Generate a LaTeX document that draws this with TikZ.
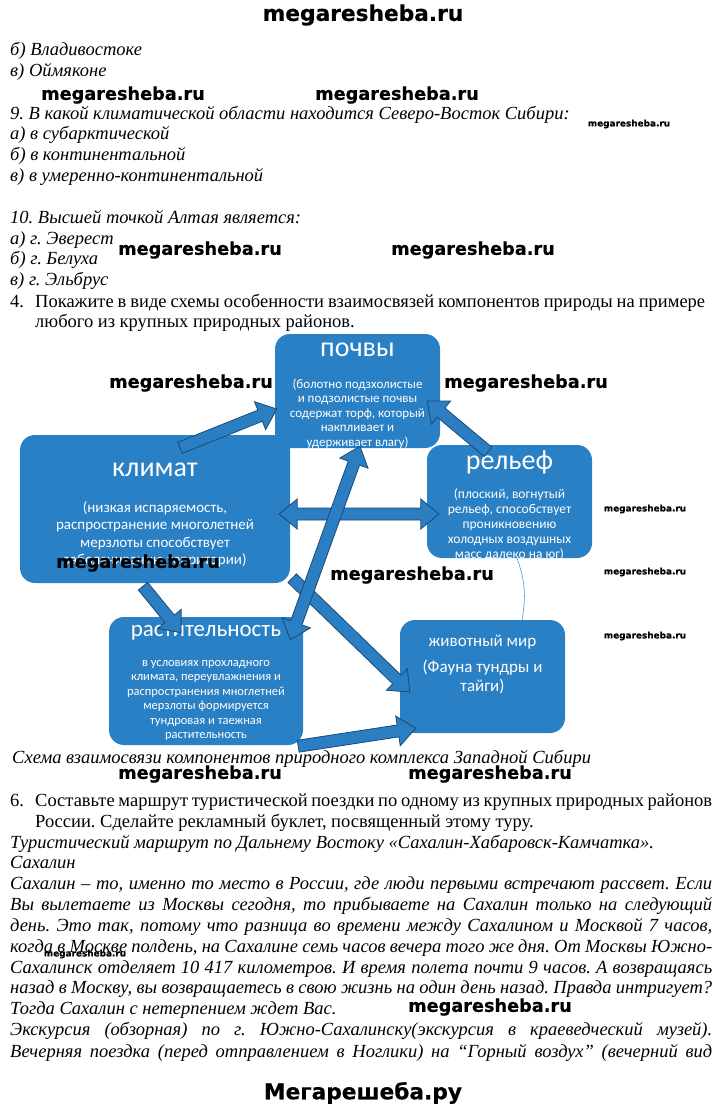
\documentclass[tikz,border=0pt]{standalone}
\usepackage{fontspec}
\setmainfont{Liberation Serif}
\newfontfamily\boxfont{Carlito}
\newfontfamily\wmfont{DejaVu Sans}[BoldFeatures={FakeBold=0.4}]
\usetikzlibrary{positioning, arrows.meta, calc}
\definecolor{boxblue}{RGB}{42,128,196}
\definecolor{arrblue}{RGB}{44,126,194}
\definecolor{arrline}{RGB}{26,74,118}
\frenchspacing
% one line stretched to a given width
\newcommand{\jline}[2]{\makebox[#1][s]{#2}}
% lines of a box text, baseline at the first line
\newcommand{\boxlines}[1]{\begin{tabular}[t]{@{}c@{}}#1\end{tabular}}
% block arrow from #1 to the tip #2
\newcommand{\blockarr}[2]{%
  \filldraw[blk] ($(#1)!6pt!90:(#2)$) -- ($(#2)!18pt!(#1)!6pt!-90:(#1)$) -- ($(#2)!18pt!(#1)!15pt!-90:(#1)$) -- (#2)
    -- ($(#2)!18pt!(#1)!15pt!90:(#1)$) -- ($(#2)!18pt!(#1)!6pt!90:(#1)$) -- ($(#1)!6pt!-90:(#2)$) -- cycle;}
% block arrow with tips at #1 and #2
\newcommand{\blockdarr}[2]{%
  \filldraw[blk] ($(#1)!18pt!(#2)!6pt!90:(#2)$) -- ($(#2)!18pt!(#1)!6pt!-90:(#1)$) -- ($(#2)!18pt!(#1)!15pt!-90:(#1)$) -- (#2)
    -- ($(#2)!18pt!(#1)!15pt!90:(#1)$) -- ($(#2)!18pt!(#1)!6pt!90:(#1)$) -- ($(#1)!18pt!(#2)!6pt!-90:(#2)$)
    -- ($(#1)!18pt!(#2)!15pt!-90:(#2)$) -- (#1) -- ($(#1)!18pt!(#2)!15pt!90:(#2)$) -- cycle;}
\tikzset{
  txt/.style={
      anchor=base west,
      inner sep=0pt,
      font=\fontsize{18.5}{20}\selectfont\itshape
    },
  rom/.style={
      txt,
      font=\fontsize{18.5}{20}\selectfont
    },
  box/.style={
      rectangle,
      rounded corners=15pt,
      fill=boxblue,
      inner sep=0pt
    },
  head/.style={
      text=white,
      inner sep=0pt
    },
  body/.style={
      text=white,
      inner sep=0pt,
      anchor=base
    },
  blk/.style={
      fill=arrblue,
      draw=arrline,
      line width=0.8pt,
      line join=miter
    },
  link/.style={
      draw=boxblue!80,
      line width=0.6pt
    },
  wm/.style={
      inner sep=0pt,
      font=\wmfont\bfseries\fontsize{17.7}{18}\selectfont
    },
  wmbig/.style={
      wm,
      font=\wmfont\bfseries\fontsize{21.7}{22}\selectfont
    },
  wmsmall/.style={
      wm,
      font=\wmfont\bfseries\fontsize{8.9}{9}\selectfont
    }
}
\begin{document}
\begin{tikzpicture}[x=1pt, y=-1pt]
  \useasboundingbox (0,0) rectangle (720,1112);
  \fill[white] (0,0) rectangle (720,1112);

  % questions
  \node[txt] (b8) at (10,55) {б) Владивостоке};
  \node[txt] (c8) at (10,76) {в) Оймяконе};
  \node[txt] (q9) at (10,119) {9. В какой климатической области находится Северо-Восток Сибири:};
  \node[txt] (a9) at (10,139) {а) в субарктической};
  \node[txt] (b9) at (10,160) {б) в континентальной};
  \node[txt] (c9) at (10,181) {в) в умеренно-континентальной};
  \node[txt] (q10) at (10,223) {10. Высшей точкой Алтая является:};
  \node[txt] (a10) at (10,244) {а) г. Эверест};
  \node[txt] (b10) at (10,264) {б) г. Белуха};
  \node[txt] (c10) at (10,285) {в) г. Эльбрус};
  \node[rom] (n4) at (10,307) {4.};
  \node[rom] (t4) at (35,307) {\jline{670pt}{Покажите в виде схемы особенности взаимосвязей компонентов природы на примере}};
  \node[rom] (t4b) at (35,327) {любого из крупных природных районов.};

  % scheme
  \node[box, minimum width=165pt, minimum height=114pt] (poch) at (357.5,391) {};
  \node[box, minimum width=270pt, minimum height=148pt] (klim) at (155,509) {};
  \node[box, minimum width=165pt, minimum height=113pt] (rel) at (509.5,501.5) {};
  \node[box, minimum width=194pt, minimum height=128pt] (rast) at (206,681) {};
  \node[box, minimum width=165pt, minimum height=113pt] (zhiv) at (482.5,676.5) {};

  \node[head, font=\boxfont\fontsize{28}{30}\selectfont] (pochT) at (357.5,350) {почвы};
  \node[body, font=\boxfont\fontsize{13}{14.5}\selectfont] (pochB) at (357.5,388) {\boxlines{(болотно подзхолистые\\ и подзолистые почвы\\ содержат торф, который\\ накпливает и\\ удерживает влагу)}};
  \node[head, font=\boxfont\fontsize{28}{30}\selectfont] (klimT) at (155,470) {климат};
  \node[body, font=\boxfont\fontsize{15}{17.5}\selectfont] (klimB) at (155,512) {\boxlines{(низкая испаряемость,\\ распространение многолетней\\ мерзлоты способствует\\ заболачиванию территории)}};
  \node[head, font=\boxfont\fontsize{28}{30}\selectfont] (relT) at (509.5,462) {рельеф};
  \node[body, font=\boxfont\fontsize{13.5}{15}\selectfont] (relB) at (509.5,498) {\boxlines{(плоский, вогнутый\\ рельеф, способствует\\ проникновению\\ холодных воздушных\\ масс далеко на юг)}};
  \node[head, font=\boxfont\fontsize{23}{25}\selectfont] (rastT) at (206,633) {растительность};
  \node[body, font=\boxfont\fontsize{12.5}{14.5}\selectfont] (rastB) at (206,666) {\boxlines{в условиях прохладного\\ климата, переувлажнения и\\ распространения многлетней\\ мерзлоты формируется\\ тундровая и таежная\\ растительность}};
  \node[head, font=\boxfont\fontsize{17}{19}\selectfont] (zhivT) at (482.5,642) {животный мир};
  \node[body, font=\boxfont\fontsize{17}{19}\selectfont] (zhivB) at (482.5,672) {\boxlines{(Фауна тундры и\\ тайги)}};

  % arrow ends
  \coordinate (kp1) at ([xshift=25pt,yshift=-13pt]klim.north);
  \coordinate (kp2) at ([xshift=2pt,yshift=-18pt]poch.west);
  \coordinate (rp1) at ([xshift=-21.5pt,yshift=-7pt]rel.north);
  \coordinate (rp2) at ([xshift=-13pt,yshift=-10pt]poch.east);
  \coordinate (kr1) at ([xshift=-11pt,yshift=-5pt]klim.east);
  \coordinate (kr2) at ([xshift=12pt,yshift=-12.5pt]rel.west);
  \coordinate (pr1) at ([xshift=2.5pt,yshift=2pt]poch.south);
  \coordinate (pr2) at ([xshift=-13pt,yshift=-23pt]rast.north east);
  \coordinate (ka1) at ([xshift=-12pt,yshift=-3pt]klim.south);
  \coordinate (ka2) at ([xshift=-25pt,yshift=-16pt]rast.north);
  \coordinate (kz1) at ([xshift=2pt,yshift=5pt]klim.south east);
  \coordinate (kz2) at ([xshift=10pt,yshift=-15.5pt]zhiv.west);
  \coordinate (az1) at ([xshift=-5pt,yshift=-1pt]rast.south east);
  \coordinate (az2) at ([xshift=16pt,yshift=5pt]zhiv.south west);

  \blockarr{kp1}{kp2}
  \blockarr{rp1}{rp2}
  \blockdarr{kr1}{kr2}
  \blockarr{ka1}{ka2}
  \blockarr{kz1}{kz2}
  \blockdarr{pr1}{pr2}
  \blockarr{az1}{az2}
  \draw[link] ([xshift=7.5pt]rel.south) to[bend left=15] ([xshift=39.5pt]zhiv.north);

  \node[txt] (cap) at (12,763) {Схема взаимосвязи компонентов природного комплекса Западной Сибири};

  % task 6
  \node[rom] (n6) at (10,806) {6.};
  \node[rom] (t6) at (35,806) {\jline{677pt}{Составьте маршрут туристической поездки по одному из крупных природных районов}};
  \node[rom] (t6b) at (35,827) {России. Сделайте рекламный буклет, посвященный этому туру.};
  \node[txt] (r1) at (10,848) {Туристический маршрут по Дальнему Востоку «Сахалин-Хабаровск-Камчатка».};
  \node[txt] (r2) at (10,868) {Сахалин};
  \node[txt] (p1) at (10,889) {\jline{702pt}{Сахалин – то, именно то место в России, где люди первыми встречают рассвет. Если}};
  \node[txt] (p2) at (10,910) {\jline{702pt}{Вы вылетаете из Москвы сегодня, то прибываете на Сахалин только на следующий}};
  \node[txt] (p3) at (10,931) {\jline{702pt}{день. Это так, потому что разница во времени между Сахалином и Москвой 7 часов,}};
  \node[txt] (p4) at (10,952) {\jline{702pt}{когда в Москве полдень, на Сахалине семь часов вечера того же дня. От Москвы Южно-}};
  \node[txt] (p5) at (10,973) {\jline{702pt}{Сахалинск отделяет 10 417 километров. И время полета почти 9 часов. А возвращаясь}};
  \node[txt] (p6) at (10,993) {\jline{702pt}{назад в Москву, вы возвращаетесь в свою жизнь на один день назад. Правда интригует?}};
  \node[txt] (p7) at (10,1014) {Тогда Сахалин с нетерпением ждет Вас.};
  \node[txt] (p8) at (10,1035) {\jline{702pt}{Экскурсия (обзорная) по г. Южно-Сахалинску(экскурсия в краеведческий музей).}};
  \node[txt] (p9) at (10,1057) {\jline{702pt}{Вечерняя поездка (перед отправлением в Ноглики) на “Горный воздух” (вечерний вид}};

  % watermarks
  \node[wmbig] (wm0) at (363,15) {megaresheba.ru};
  \node[wm] (wm1) at (123,95) {megaresheba.ru}; \node[wm] (wm2) at (397,95) {megaresheba.ru};
  \node[wmsmall] (wm3) at (629,124) {megaresheba.ru};
  \node[wm] (wm4) at (200,250) {megaresheba.ru}; \node[wm] (wm5) at (473,250) {megaresheba.ru};
  \node[wm] (wm6) at (191,383) {megaresheba.ru}; \node[wm] (wm7) at (526,383) {megaresheba.ru};
  \node[wmsmall] (wm8) at (645,509) {megaresheba.ru};
  \node[wm] (wm9) at (138,563) {megaresheba.ru}; \node[wm] (wm10) at (412,575) {megaresheba.ru};
  \node[wmsmall] (wm11) at (645,572) {megaresheba.ru};
  \node[wmsmall] (wm12) at (645,636) {megaresheba.ru};
  \node[wm] (wm13) at (200,774) {megaresheba.ru}; \node[wm] (wm14) at (490,774) {megaresheba.ru};
  \node[wmsmall] (wm15) at (85,954) {megaresheba.ru};
  \node[wm] (wm16) at (490,1007) {megaresheba.ru};
  \node[wmbig] (wm17) at (363,1093) {Мегарешеба.ру};
\end{tikzpicture}
\end{document}
